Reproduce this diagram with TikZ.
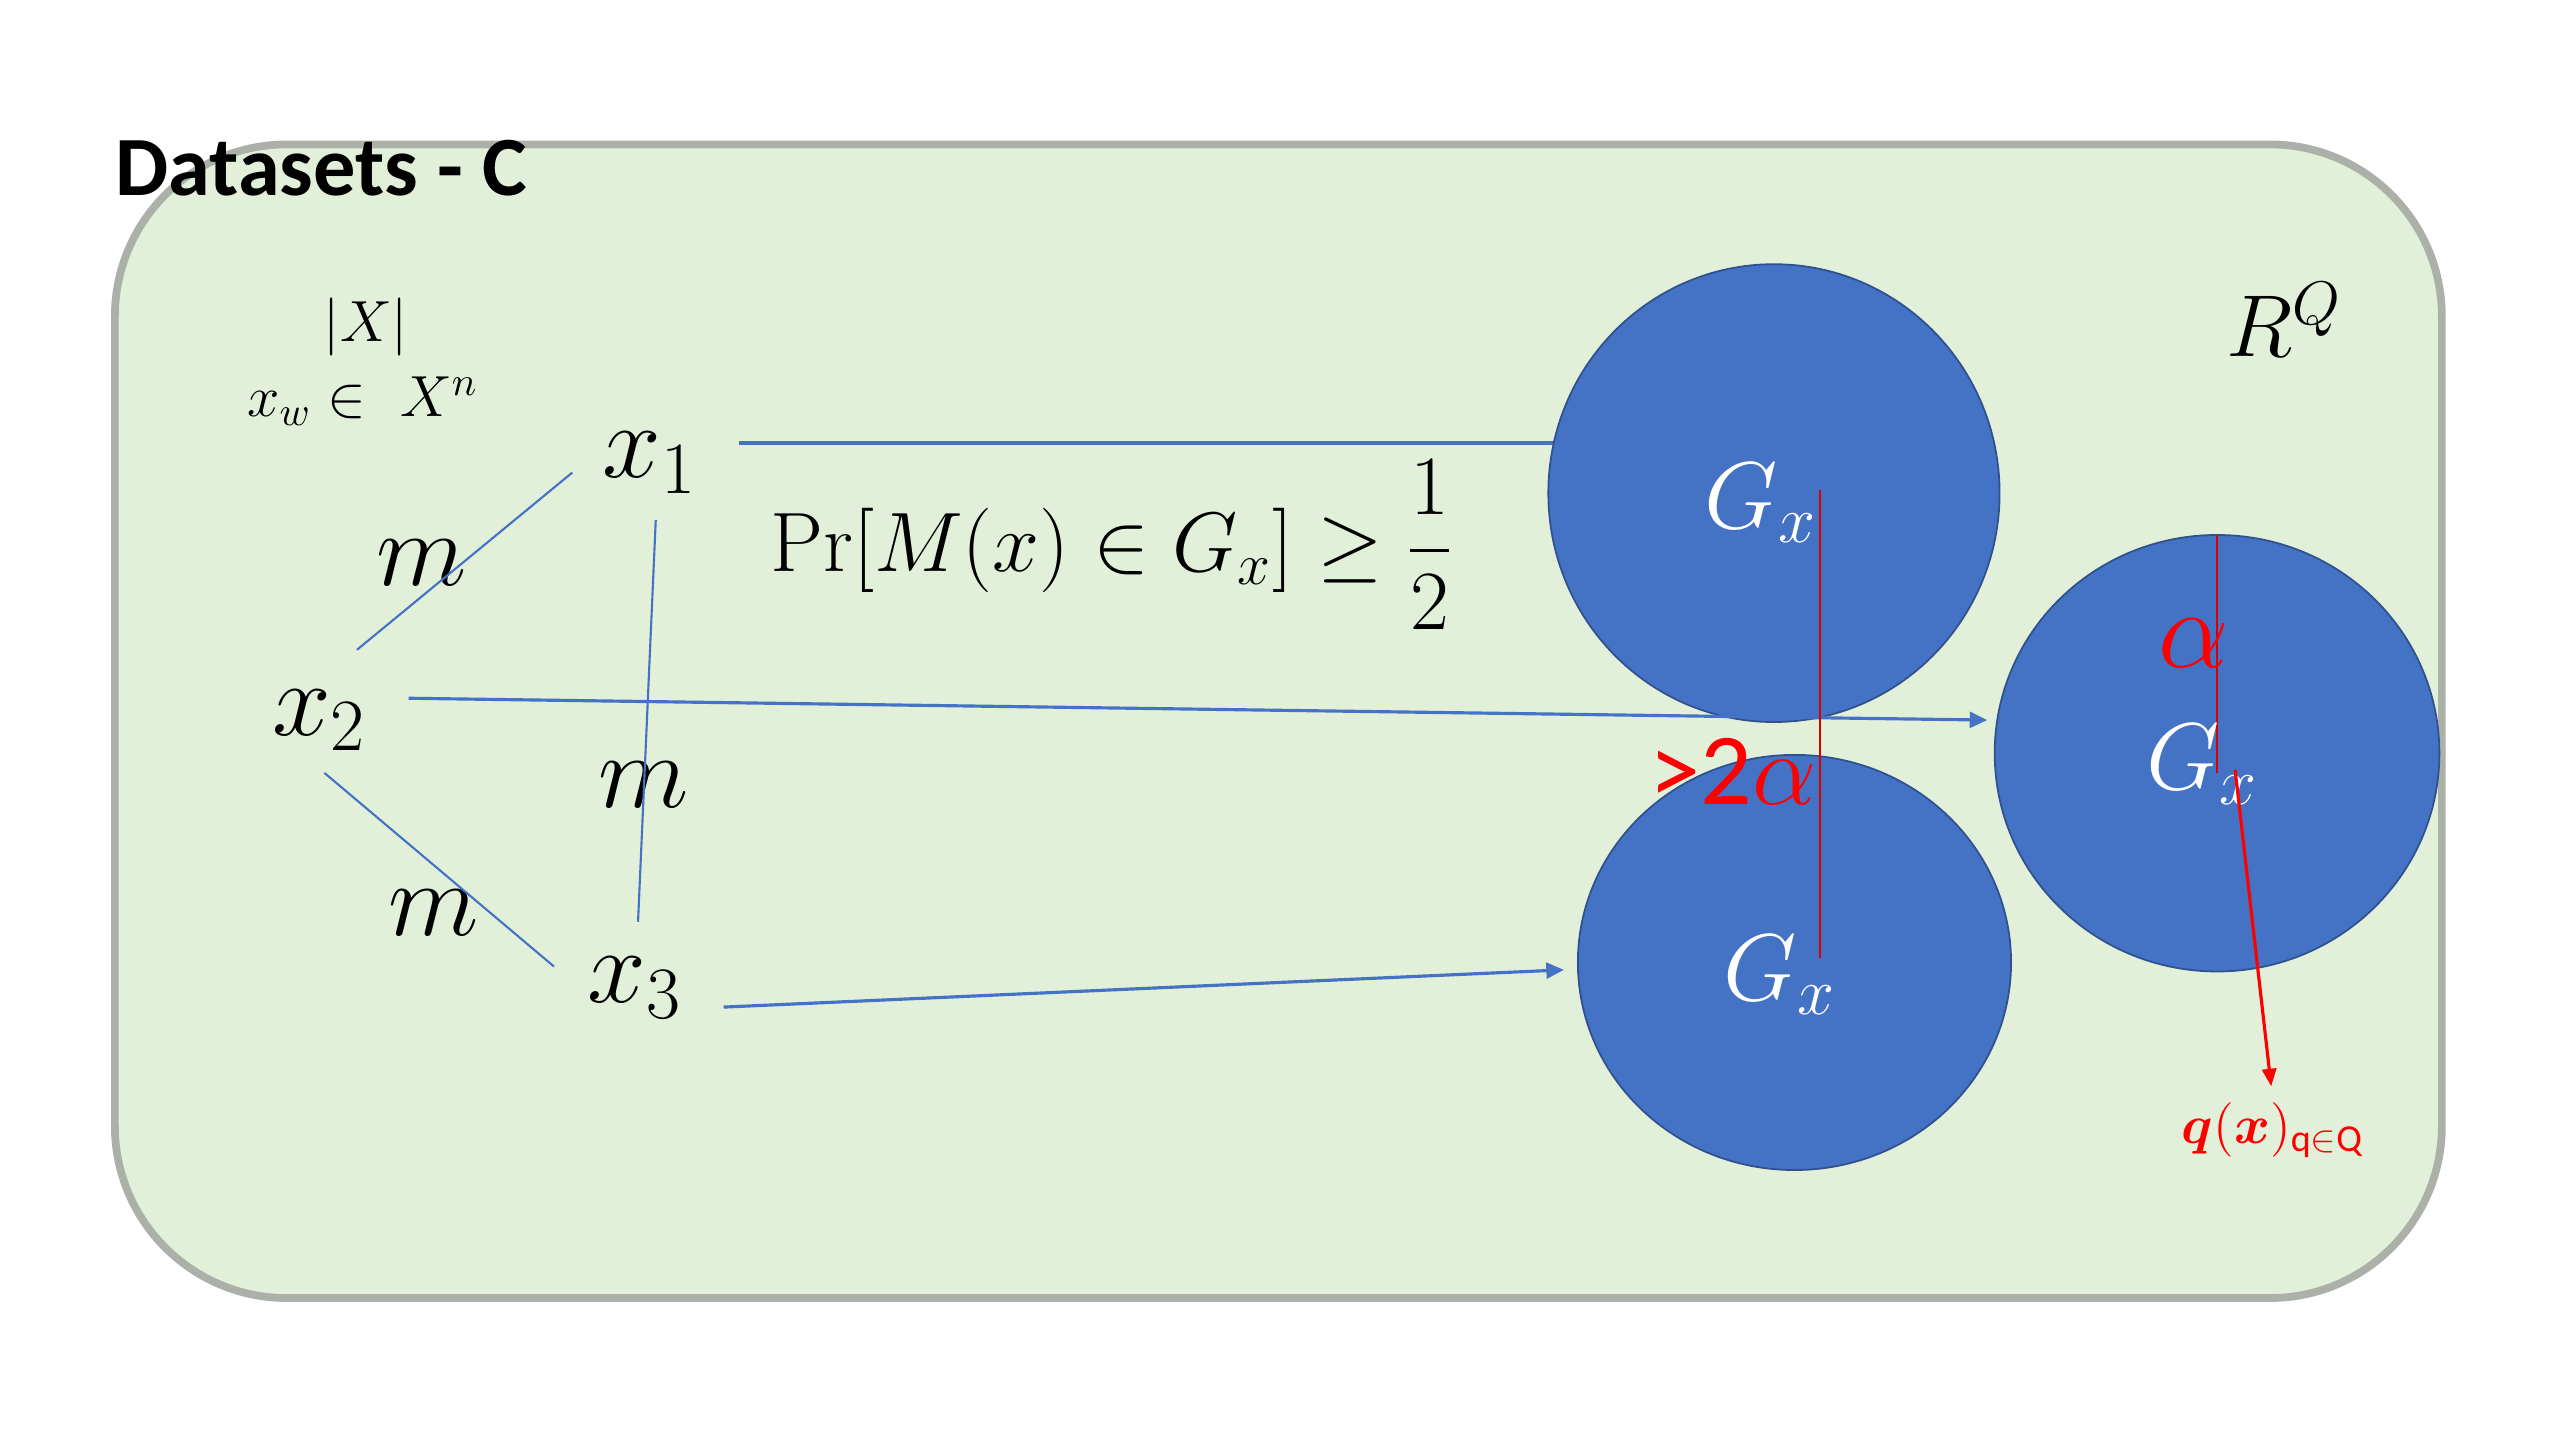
\RequirePackage{fix-cm}
\documentclass[tikz,border=0pt]{standalone}
\usepackage{amsmath,bm}
\usepackage{fontspec}
\setsansfont{Carlito}
\usetikzlibrary{shapes.geometric,arrows.meta}
\definecolor{bgreen}{HTML}{E2F0D9}
\definecolor{oblue}{HTML}{4472C4}
\definecolor{dblue}{HTML}{2F528F}
\definecolor{framegray}{HTML}{ABB1A9}
\definecolor{ored}{HTML}{FF0000}
\newcommand{\fs}[1]{\fontsize{#1}{#1}\selectfont}
\tikzset{
  setbox/.style={draw=framegray, line width=2.2pt, fill=bgreen},
  blob/.style={ellipse, draw=dblue, line width=0.5pt, fill=oblue, inner sep=0pt},
  lbl/.style={anchor=base, inner sep=0pt},
  edge/.style={draw=oblue, line width=0.6pt},
  blink/.style={draw=oblue, line width=0.9pt},
  barrow/.style={draw=oblue, line width=0.9pt, -{Triangle[length=5pt,width=4.5pt]}},
  rline/.style={draw=ored!85!black, line width=0.6pt},
  rarrow/.style={draw=ored, line width=0.9pt, -{Triangle[length=5pt,width=4pt]}},
}
\begin{document}
\begin{tikzpicture}[x=0.01641cm,y=-0.01641cm]
\useasboundingbox (0,0) rectangle (1560,877.5);
\fill[white] (0,0) rectangle (1560,877.5);
% frame
\draw[setbox, rounded corners=1.72cm] (70,88) rectangle (1488,791);
\node[lbl, anchor=base west, font=\sffamily\bfseries\fs{24}] (title) at (70,119) {Datasets - C};
% left texts
\node[lbl, font=\fs{16.5}] (absX) at (223,208) {$|X|$};
\node[lbl, font=\fs{16.5}] (xw) at (221,254) {$x_w\in\ X^n$};
\node[lbl, font=\fs{30}] (x1) at (396,291) {$x_1$};
\node[lbl, font=\fs{30}] (x2) at (194.5,448) {$x_2$};
\node[lbl, font=\fs{30}] (x3) at (387,611) {$x_3$};
\node[lbl, font=\fs{30}] (m12) at (257,357) {$m$};
\node[lbl, font=\fs{30}] (m13) at (392,492) {$m$};
\node[lbl, font=\fs{30}] (m23) at (264.5,570) {$m$};
\node[lbl, font=\fs{24}] (pr) at (677.5,348.4) {$\displaystyle \Pr[M(x)\in G_x]\geq\frac{1}{2}$};
\node[lbl, font=\fs{25}] (RQ) at (1392,217) {$R^Q$};
% edge end points
\coordinate (e12a) at (217.5,396);
\coordinate (e12b) at (348.7,288);
\coordinate (e23a) at (197.7,471);
\coordinate (e23b) at (337.6,589);
\coordinate (e13a) at (399.6,316.9);
\coordinate (e13b) at (388.8,561.7);
\coordinate (a1s) at (450.3,270);
\coordinate (a1e) at (948,270);
\coordinate (a2s) at (249,425.5);
\coordinate (a2e) at (1211,438.8);
\coordinate (a3s) at (441,613.7);
\coordinate (a3e) at (953,591);
\draw[edge] (e12a) -- (e12b);
\draw[edge] (e23a) -- (e23b);
\draw[edge] (e13a) -- (e13b);
\draw[blink] (a1s) -- (a1e);
% circles
\node[blob, minimum width={275*0.01641cm}, minimum height={279*0.01641cm}] (C1) at (1081,300.5) {};
\node[blob, minimum width={264*0.01641cm}, minimum height={253*0.01641cm}] (C2) at (1093.5,586.5) {};
\node[blob, minimum width={271*0.01641cm}, minimum height={266*0.01641cm}] (C3) at (1351,459) {};
\draw[barrow] (a2s) -- (a2e);
\draw[barrow] (a3s) -- (a3e);
% red marks
\coordinate (r1a) at (1109,298.6);
\coordinate (r1b) at (1109,584);
\coordinate (r2a) at (1351,326);
\coordinate (r2b) at (1351,471);
\coordinate (r3a) at (1362,469);
\coordinate (r3b) at (1384,662);
\draw[rline] (r1a) -- (r1b);
\draw[rline] (r2a) -- (r2b);
% labels in circles
\node[lbl, font=\fs{27}, text=white] (G1) at (1073,322) {$G_x$};
\node[lbl, font=\fs{27}, text=white] (G2) at (1084.5,609.4) {$G_x$};
\node[lbl, font=\fs{27}, text=white] (G3) at (1342,481.4) {$G_x$};
\draw[rarrow] (r3a) -- (r3b);
\node[lbl, font=\fs{32}, text=ored] (al) at (1337,407) {$\alpha$};
\node[lbl, font=\fs{29}, text=ored] (two) at (1056,490) {\sffamily >2$\alpha$};
\node[lbl, font=\fs{15.5}, text=ored] (qx) at (1385,697) {$\bm{q}(\bm{x})_{\textsf{q}\in\textsf{Q}}$};
\end{tikzpicture}
\end{document}
